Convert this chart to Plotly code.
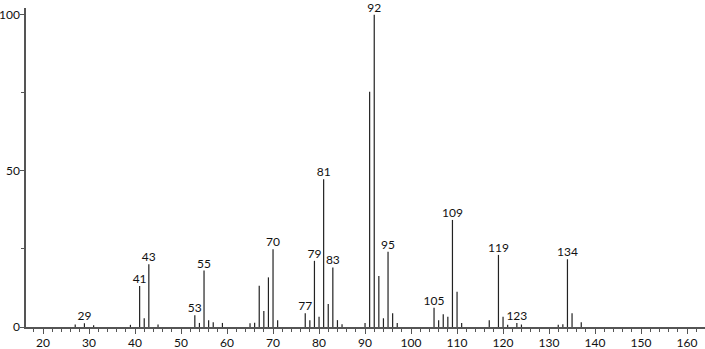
import plotly.graph_objects as go

mz = [27, 29, 31, 39, 41, 42, 43, 45, 53, 54, 55, 56, 57, 59,
      65, 66, 67, 68, 69, 70, 71, 77, 78, 79, 80, 81, 82, 83, 84, 85,
      90, 91, 92, 93, 94, 95, 96, 97, 105, 106, 107, 108, 109, 110, 111,
      117, 119, 120, 121, 123, 124, 132, 133, 134, 135, 137]
intensity = [0.8, 1.2, 0.6, 0.7, 13.1, 2.8, 20.1, 0.8, 3.8, 1.3, 18.1, 2.2, 1.5, 1.3,
             1.2, 1.4, 13.2, 5.1, 15.9, 24.9, 2.2, 4.4, 2.2, 21.2, 3.3, 47.3, 7.4, 19.1, 2.2, 0.9,
             1.3, 75.4, 100.0, 16.3, 2.8, 24.1, 4.4, 1.3, 6.2, 2.2, 4.1, 3.3, 34.3, 11.3, 1.3,
             2.2, 23.1, 3.3, 0.7, 1.3, 0.8, 0.7, 0.9, 21.7, 4.4, 1.5]
labeled = [29, 41, 43, 53, 55, 70, 77, 79, 81, 83, 92, 95, 105, 109, 119, 123, 134]

xs, ys = [], []
for m, v in zip(mz, intensity):
    xs += [m, m, None]
    ys += [0, v, None]

lab_x = [m for m in labeled]
lab_y = [intensity[mz.index(m)] for m in labeled]
lab_t = [str(m) for m in labeled]

fig = go.Figure()
fig.add_trace(go.Scatter(x=xs, y=ys, mode="lines",
                         line=dict(color="#222222", width=1.2),
                         hoverinfo="skip", showlegend=False))
fig.add_trace(go.Scatter(x=lab_x, y=lab_y, mode="text", text=lab_t,
                         textposition="top center", cliponaxis=False,
                         textfont=dict(family="Lato, sans-serif", size=12, color="#111111"),
                         showlegend=False))

fig.update_layout(
    width=705, height=349,
    margin=dict(l=26, r=0, t=8, b=22),
    paper_bgcolor="white", plot_bgcolor="white",
    font=dict(family="Lato, sans-serif", size=12, color="#111111"),
)
fig.update_xaxes(range=[16.3, 163.9], showgrid=False, zeroline=False, automargin=False,
                 showline=True, linecolor="#555555", linewidth=1.5,
                 tickmode="linear", tick0=20, dtick=10,
                 ticks="outside", ticklen=5, tickcolor="#555555", tickwidth=1.2,
                 ticklabelstandoff=-1,
                 minor=dict(tickmode="linear", tick0=0, dtick=2, ticks="outside",
                            ticklen=3, tickcolor="#555555"))
fig.update_yaxes(range=[0, 102.2], showgrid=False, zeroline=False, automargin=False,
                 showline=True, linecolor="#555555", linewidth=1.5,
                 tickmode="array", tickvals=[0, 50, 100],
                 ticks="outside", ticklen=4, tickcolor="#555555", tickwidth=1.2,
                 ticklabelstandoff=-2,
                 minor=dict(tickmode="array", tickvals=[25, 75], ticks="outside",
                            ticklen=3, tickcolor="#555555"))

fig.write_html("out.html")
